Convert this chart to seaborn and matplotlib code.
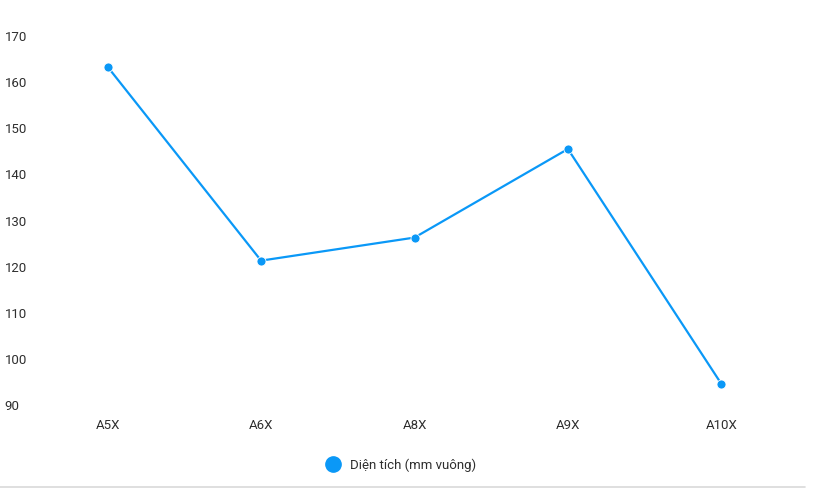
import matplotlib
matplotlib.use("Agg")
import matplotlib.pyplot as plt
from matplotlib.lines import Line2D
import pandas as pd
import seaborn as sns

# screen area per chip model
models = ["A5X", "A6X", "A8X", "A9X", "A10X"]
area = [163.3, 121.3, 126.3, 145.5, 94.6]
series_name = "Diện tích (mm vuông)"
yticks = [90, 100, 110, 120, 130, 140, 150, 160, 170]

df = pd.DataFrame({"model": models, "area": area})

sns.set_style("white")
plt.rcParams["font.family"] = ["Roboto", "DejaVu Sans"]

blue = "#0A98F7"
txt = "#2e2e2e"

fig = plt.figure(figsize=(8.19, 4.88), dpi=100)
ax = fig.add_axes([31 / 819, 1 - 405 / 488, 767 / 819, 369 / 488])

sns.lineplot(data=df, x="model", y="area", sort=False, ax=ax, color=blue,
             linewidth=1.6, marker="o", markersize=6.5,
             markeredgecolor="white", markeredgewidth=0.6)

ax.set_xlim(-0.5, len(models) - 0.5)
ax.set_ylim(90, 170)
ax.set_yticks(yticks)
ax.set_xlabel("")
ax.set_ylabel("")
sns.despine(ax=ax, left=True, bottom=True)
ax.tick_params(axis="both", length=0, labelsize=9.5, labelcolor=txt)
ax.tick_params(axis="y", pad=19)
ax.tick_params(axis="x", pad=10)
for lab in ax.get_yticklabels():
    lab.set_horizontalalignment("left")

handle = Line2D([], [], linestyle="none", marker="o", markersize=11,
                color=blue, markeredgecolor=blue)
fig.legend([handle], [series_name], loc="center",
           bbox_to_anchor=(401 / 819, 1 - 465 / 488), frameon=False,
           fontsize=9.5, labelcolor=txt, handletextpad=0.7, handlelength=1.2)

# thin divider at the bottom
fig.add_artist(Line2D([0, 805 / 819], [1.5 / 488, 1.5 / 488],
                      color="#d9d9d9", linewidth=1.2,
                      transform=fig.transFigure))

fig.savefig("out.png", dpi=100)
